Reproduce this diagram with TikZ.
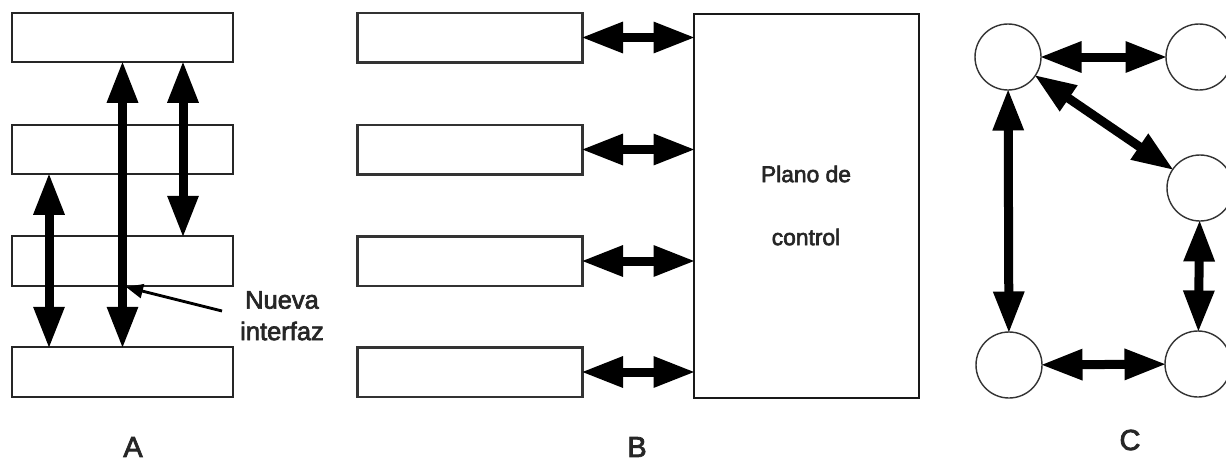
\documentclass[tikz,border=0pt]{standalone}
\usepackage{fontspec}
\setmainfont{Liberation Sans}[RawFeature={embolden=2.6}]
\usetikzlibrary{arrows.meta}
\tikzset{
  x=1pt,y=-1pt,
  box/.style={draw=black!85,line width=2pt,fill=white,minimum width=221pt,minimum height=49.5pt,inner sep=0pt,outer sep=0pt},
  sbox/.style={draw=black!80,line width=2.5pt,fill=white,minimum width=225pt,minimum height=49.5pt,inner sep=0pt,outer sep=0pt},
  big/.style={draw=black!90,line width=2pt,fill=white,minimum width=225pt,minimum height=384pt,inner sep=0pt,outer sep=0pt},
  circ/.style={circle,draw=black!80,line width=1.4pt,fill=white,minimum size=66pt,inner sep=0pt,outer sep=0pt},
  dbl/.style={draw=black,line width=9pt,shorten >=-1.5pt,shorten <=-1.5pt,{Triangle[length=42pt,width=29pt]}-{Triangle[length=42pt,width=29pt]}},
  lab/.style={font=\fontsize{29pt}{35pt}\selectfont,text=black!85,inner sep=0pt},
  small/.style={font=\fontsize{25.5pt}{30pt}\selectfont,text=black!85,inner sep=0pt},
  plano/.style={font=\fontsize{22.8pt}{27pt}\selectfont,text=black!85,inner sep=0pt},
  lead/.style={draw=black,line width=2.8pt,-{Triangle[length=17pt,width=14pt]}}
}
\begin{document}
\begin{tikzpicture}
\useasboundingbox (0,0) rectangle (1226,461);
\clip (0,0) rectangle (1226,461);
\fill[white] (0,0) rectangle (1226,461);
% A
\node[box] (a1) at (122.5,37.5) {};
\node[box] (a2) at (122.5,149.5) {};
\node[box] (a3) at (122.5,261) {};
\node[box] (a4) at (122.5,372) {};
\draw[dbl] (a1) -- (a4);
\draw[dbl] ([xshift=60.5pt]a1.south) -- ([xshift=60.5pt]a3.north);
\draw[dbl] ([xshift=-73.5pt]a2.south) -- ([xshift=-73.5pt]a4.north);
\node[small] (nl1) at (282,300) {Nueva};
\node[small] (nl2) at (282,331) {interfaz};
\coordinate (le) at (222,311);
\coordinate (lt) at (126,287);
\draw[lead] (le) -- (lt);
\node[lab] (la) at (133,447) {A};
% B
\node[sbox] (b1) at (470,37.5) {};
\node[sbox] (b2) at (470,149.5) {};
\node[sbox] (b3) at (470,261) {};
\node[sbox] (b4) at (470,372) {};
\node[big] (bb) at (806.5,206) {};
\node[plano] (pl1) at (806,174) {Plano de};
\node[plano] (pl2) at (806,237) {control};
\foreach \i in {1,2,3,4}{
  \draw[dbl] (b\i.east) -- (b\i.east -| bb.west);
}
\node[lab] (lb) at (637,447) {B};
% C
\node[circ] (c1) at (1008,57) {};
\node[circ] (c2) at (1199,57) {};
\node[circ] (c3) at (1200,188) {};
\node[circ] (c4) at (1198,364) {};
\node[circ] (c5) at (1009,365) {};
\draw[dbl] (c1) -- (c2);
\draw[dbl] (c1) -- (c3);
\draw[dbl] (c1) -- (c5);
\draw[dbl] (c3) -- (c4);
\draw[dbl] (c5) -- (c4);
\node[lab] (lc) at (1130,440) {C};
\end{tikzpicture}
\end{document}
